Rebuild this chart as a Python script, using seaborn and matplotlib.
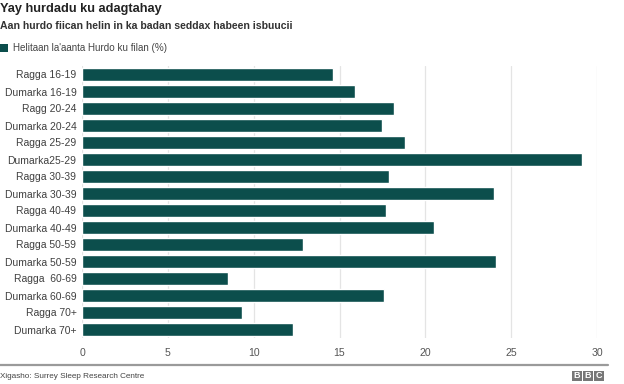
import matplotlib
matplotlib.use("Agg")
import matplotlib.pyplot as plt
import seaborn as sns
import pandas as pd
from matplotlib.patches import Rectangle

categories = ["Ragga 16-19", "Dumarka 16-19", "Ragg 20-24", "Dumarka 20-24",
              "Ragga 25-29", "Dumarka25-29", "Ragga 30-39", "Dumarka 30-39",
              "Ragga 40-49", "Dumarka 40-49", "Ragga 50-59", "Dumarka 50-59",
              "Ragga  60-69", "Dumarka 60-69", "Ragga 70+", "Dumarka 70+"]
values = [14.6, 15.9, 18.2, 17.5, 18.8, 29.1, 17.9, 24.0,
          17.7, 20.5, 12.9, 24.1, 8.5, 17.6, 9.3, 12.3]
xticks = [0, 5, 10, 15, 20, 25, 30]

title = "Yay hurdadu ku adagtahay"
subtitle = "Aan hurdo fiican helin in ka badan seddax habeen isbuucii"
legend_label = "Helitaan la'aanta Hurdo ku filan (%)"
source = "Xigasho: Surrey Sleep Research Centre"

bar_color = "#0c4e4c"

sns.set_theme(style="white")
plt.rcParams['font.family'] = ['Liberation Sans', 'DejaVu Sans']

W, H = 624, 384
fig = plt.figure(figsize=(W / 100, H / 100), dpi=100)

def px(x, y):
    return x / W, 1 - y / H

ax_left, ax_right, ax_top, ax_bottom = 82, 597, 66, 338
ax = fig.add_axes([ax_left / W, 1 - ax_bottom / H, (ax_right - ax_left) / W, (ax_bottom - ax_top) / H])

df = pd.DataFrame({"cat": categories, "val": values})
sns.barplot(data=df, x="val", y="cat", orient="h", color=bar_color, saturation=1,
            width=0.72, ax=ax, zorder=3)

ax.set_xlim(0, 30)
ax.set_ylim(len(categories) - 0.5, -0.5)
ax.set_xticks(xticks)
ax.set_xticklabels([str(t) for t in xticks])
ax.set_xlabel("")
ax.set_ylabel("")
for s in ax.spines.values():
    s.set_visible(False)
ax.grid(axis="x", color="#e4e4e4", linewidth=0.9, zorder=0)
ax.tick_params(axis="x", length=0, pad=7, labelsize=7.6, labelcolor="#555555")
ax.tick_params(axis="y", length=0, pad=4, labelsize=7.5, labelcolor="#404040")

# Title texts
fig.text(*px(0, 9), title, fontsize=9.2, fontweight="bold", color="#222222", va="center", ha="left")
fig.text(*px(0, 26), subtitle, fontsize=7.6, fontweight="bold", color="#333333", va="center", ha="left")

# legend
fig.patches.append(Rectangle(px(0, 52), 8 / W, 8 / H, transform=fig.transFigure,
                             facecolor=bar_color, edgecolor="none"))
fig.text(*px(13, 48), legend_label, fontsize=7.1, color="#444444", va="center", ha="left")

# bottom rule
fig.add_artist(plt.Line2D([0, 608 / W], [1 - 365 / H] * 2, color="#9a9a9a", linewidth=1.6,
                          transform=fig.transFigure))
fig.text(*px(0, 376), source, fontsize=5.9, color="#444444", va="center", ha="left")

# BBC logo
for i, letter in enumerate("BBC"):
    x0 = 572 + i * 11
    fig.patches.append(Rectangle(px(x0, 381), 10 / W, 10 / H, transform=fig.transFigure,
                                 facecolor="#777777", edgecolor="none"))
    fig.text(*px(x0 + 5, 376), letter, fontsize=6.5, fontweight="bold", color="white",
             ha="center", va="center")

fig.savefig("out.png", dpi=100)
